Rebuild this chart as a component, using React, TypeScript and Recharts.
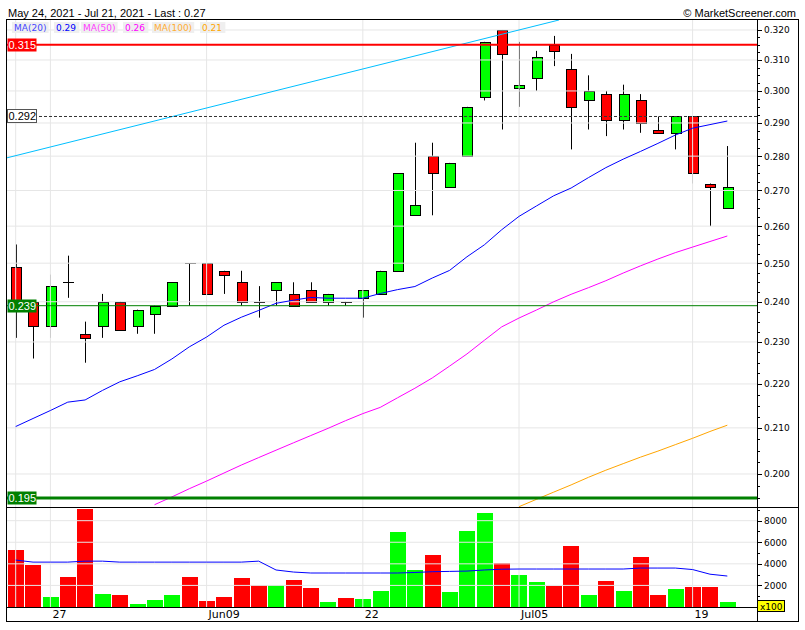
import React from 'react';
import { ComposedChart, Bar, Line, XAxis, YAxis, ReferenceLine } from 'recharts';

const dates = [
  '05-25', '05-26', '05-27', '05-28', '05-31', '06-01', '06-02', '06-03', '06-04', '06-07',
  '06-08', '06-09', '06-10', '06-11', '06-14', '06-15', '06-16', '06-17', '06-18', '06-21',
  '06-22', '06-23', '06-24', '06-25', '06-28', '06-29', '06-30', '07-01', '07-02', '07-05',
  '07-06', '07-07', '07-08', '07-09', '07-12', '07-13', '07-14', '07-15', '07-16', '07-19',
  '07-20', '07-21',
];

const open = [
  0.249, 0.240, 0.234, 0.245, 0.232, 0.234, 0.240, 0.234, 0.237, 0.239,
  0.250, 0.250, 0.248, 0.245, 0.240, 0.243, 0.242, 0.243, 0.240, 0.240,
  0.241, 0.242, 0.248, 0.263, 0.280, 0.271, 0.280, 0.298, 0.320, 0.301,
  0.304, 0.315, 0.307, 0.297, 0.299, 0.291, 0.297, 0.288, 0.287, 0.292,
  0.272, 0.265,
];
const high = [
  0.255, 0.240, 0.247, 0.252, 0.235, 0.242, 0.240, 0.238, 0.239, 0.245,
  0.250, 0.250, 0.248, 0.248, 0.244, 0.245, 0.245, 0.245, 0.242, 0.240,
  0.243, 0.248, 0.275, 0.284, 0.284, 0.278, 0.295, 0.316, 0.320, 0.316,
  0.313, 0.318, 0.312, 0.305, 0.300, 0.302, 0.299, 0.292, 0.292, 0.292,
  0.272, 0.283,
];
const low = [
  0.231, 0.226, 0.231, 0.241, 0.225, 0.231, 0.233, 0.232, 0.232, 0.239,
  0.239, 0.242, 0.242, 0.239, 0.236, 0.239, 0.239, 0.240, 0.239, 0.239,
  0.236, 0.242, 0.248, 0.263, 0.263, 0.271, 0.280, 0.297, 0.288, 0.295,
  0.300, 0.308, 0.282, 0.288, 0.286, 0.288, 0.287, 0.287, 0.282, 0.272,
  0.260, 0.265,
];
const close = [
  0.240, 0.234, 0.244, 0.245, 0.231, 0.240, 0.233, 0.238, 0.239, 0.245,
  0.250, 0.242, 0.247, 0.240, 0.240, 0.245, 0.239, 0.240, 0.242, 0.240,
  0.243, 0.248, 0.275, 0.266, 0.275, 0.278, 0.295, 0.316, 0.312, 0.302,
  0.311, 0.313, 0.295, 0.300, 0.291, 0.299, 0.290, 0.287, 0.292, 0.275,
  0.271, 0.271,
];

const ma20 = [
  0.2103, 0.2121, 0.2139, 0.2158, 0.2163, 0.2185, 0.2205, 0.2219, 0.2234, 0.2259,
  0.2288, 0.2312, 0.2341, 0.2361, 0.2378, 0.2396, 0.2404, 0.2411, 0.2409, 0.2409,
  0.2409, 0.2421, 0.2431, 0.2439, 0.2461, 0.2481, 0.2517, 0.2549, 0.2590, 0.2627,
  0.2656, 0.2685, 0.2707, 0.2737, 0.2766, 0.2791, 0.2814, 0.2838, 0.2863, 0.2884,
  0.2895, 0.2906,
];
const ma50 = [
  null, null, null, null, null, null, null, null, 0.1936, 0.1952,
  0.1969, 0.1985, 0.2002, 0.2019, 0.2035, 0.2051, 0.2067, 0.2083, 0.2099, 0.2116,
  0.2132, 0.2146, 0.2168, 0.2190, 0.2214, 0.2242, 0.2271, 0.2304, 0.2337, 0.2359,
  0.2379, 0.2400, 0.2419, 0.2436, 0.2454, 0.2474, 0.2493, 0.2511, 0.2528, 0.2543,
  0.2558, 0.2573,
];
const ma100 = [
  null, null, null, null, null, null, null, null, null, null,
  null, null, null, null, null, null, null, null, null, null,
  null, null, null, null, null, null, null, null, null, 0.1932,
  0.1947, 0.1962, 0.1977, 0.1993, 0.2008, 0.2022, 0.2036, 0.2049, 0.2063, 0.2077,
  0.2092, 0.2106,
];

// volume, in hundreds of shares
const volume = [
  5300, 3900, 960, 2800, 9100, 1240, 1140, 310, 680, 1140,
  2800, 590, 960, 2710, 2070, 2070, 2530, 1790, 500, 870,
  780, 1510, 6960, 3450, 4840, 1420, 7050, 8710, 4100, 2990,
  2340, 1980, 5670, 1140, 2440, 1510, 4650, 1140, 1700, 1880,
  1880, 500,
];
const volumeMA = [
  4350, 4160, 4160, 4160, 4250, 4250, 4160, 4160, 4160, 4160,
  4160, 4160, 4160, 4160, 4250, 3430, 3240, 3150, 3150, 3150,
  3150, 3150, 3150, 3200, 3270, 3300, 3330, 3430, 3500, 3520,
  3520, 3520, 3520, 3520, 3520, 3520, 3610, 3610, 3610, 3470,
  3040, 2870,
];

const priceTicks = [0.2, 0.21, 0.22, 0.23, 0.24, 0.25, 0.26, 0.27, 0.28, 0.29, 0.3, 0.31, 0.32];
const volumeTicks = [2000, 4000, 6000, 8000];
const volumeMinorTicks = [1000, 3000, 5000, 7000, 9000];
const dateTicks = ['05-27', '06-09', '06-22', '07-05', '07-19'];
const dateTickLabels = ['27', 'Jun09', '22', 'Jul05', '19'];
const gridDates = ['05-25', '05-27', '06-09', '06-22', '07-05', '07-19'];

const levelValues = [0.315, 0.292, 0.239, 0.195];
const trendline = [
  { t: -0.5, v: 0.2795 },
  { t: 31.3, v: 0.3234 },
];

const PRICE_DOMAIN = [0.19313, 0.3234];
const VOL_DOMAIN = [0, 9175];
const PAD = 21;

const rows = dates.map((d, i) => ({
  d,
  i,
  o: open[i],
  c: close[i],
  body: [Math.min(open[i], close[i]), Math.max(open[i], close[i])],
  wick: [low[i], high[i]],
  ma20: ma20[i],
  ma50: ma50[i],
  ma100: ma100[i],
  vol: volume[i],
  volMA: volumeMA[i],
}));

const minorPrice = priceTicks.flatMap((t) => [t - 0.0075, t - 0.005, t - 0.0025]);
const allPriceTicks = [...minorPrice, ...priceTicks].sort((a, b) => a - b);

const AXIS_FONT = 'DejaVu Sans, Verdana, sans-serif';
const ARIAL = 'Liberation Sans, Arial, sans-serif';

const PriceTick = (props: any) => {
  const { x, y, payload } = props;
  const major = priceTicks.includes(payload.value);
  const py = Math.round(y) + 0.5;
  return (
    <g>
      <line x1={x} x2={x + (major ? 5 : 3)} y1={py} y2={py} stroke="#000" />
      {major && (
        <text x={x + 7} y={y + 3.5} fontSize={9} fontFamily={AXIS_FONT} fill="#000">
          {payload.value.toFixed(3)}
        </text>
      )}
    </g>
  );
};

const VolTick = (props: any) => {
  const { x, y, payload } = props;
  const major = volumeTicks.includes(payload.value);
  const py = Math.round(y) + 0.5;
  return (
    <g>
      <line x1={x} x2={x + (major ? 5 : 3)} y1={py} y2={py} stroke="#000" />
      {major && (
        <text x={x + 7} y={y + 3.5} fontSize={9} fontFamily={AXIS_FONT} fill="#000">
          {payload.value}
        </text>
      )}
    </g>
  );
};

const DateTick = (props: any) => {
  const { x, y, payload } = props;
  const label = dateTickLabels[dateTicks.indexOf(payload.value)];
  return (
    <text x={x + 2} y={y + 11} fontSize={11} fontFamily={AXIS_FONT} fill="#000">
      {label}
    </text>
  );
};

const Wick = (props: any) => {
  const { x, y, width, height } = props;
  if (x == null || y == null) return null;
  const wx = Math.round(x + width / 2 - 5) + 5.5;
  return <line x1={wx} x2={wx} y1={y} y2={y + height} stroke="#000" strokeWidth={1} />;
};

const Body = (props: any) => {
  const { x, y, width, height, payload } = props;
  if (x == null || y == null) return null;
  const left = Math.round(x + width / 2 - 5);
  const top = Math.round(y);
  const bottom = Math.round(y + height);
  if (bottom - top < 1) {
    return <line x1={left} x2={left + 11} y1={top + 0.5} y2={top + 0.5} stroke="#000" />;
  }
  const fill = payload.c > payload.o ? '#00ff00' : '#ff0000';
  return <rect x={left + 0.5} y={top + 0.5} width={10} height={bottom - top} fill={fill} stroke="#000" />;
};

const VolBar = (props: any) => {
  const { x, y, width, height, payload } = props;
  if (x == null || y == null) return null;
  const left = Math.round(x);
  const top = Math.round(y);
  const fill = payload.c > payload.o ? '#00ff00' : '#ff0000';
  return <rect x={left} y={top} width={Math.round(width)} height={Math.round(y + height) - top} fill={fill} />;
};

const levelStyles = [
  { bg: '#ff0000', fg: '#ffffff', border: 'none', line: '#ff0000', width: 2, dash: undefined },
  { bg: '#ffffff', fg: '#000000', border: '#555555', line: '#333333', width: 1, dash: '3 2' },
  { bg: '#008000', fg: '#ffffff', border: 'none', line: '#008000', width: 1, dash: undefined },
  { bg: '#008000', fg: '#ffffff', border: 'none', line: '#008000', width: 3, dash: undefined },
];

const levelTag = (value: number, k: number) => (props: any) => {
  const s = levelStyles[k];
  const y = Math.round(props.viewBox.y);
  return (
    <g>
      <rect x={7.5} y={y - 6.5} width={29} height={13} fill={s.bg} stroke={s.border} />
      <text x={8.5} y={y + 4} fontSize={11} fontFamily={ARIAL} fill={s.fg}>
        {value.toFixed(3)}
      </text>
    </g>
  );
};

const legendItems = [
  { text: 'MA(20)', x: 14, color: '#4646ff' },
  { text: ma20[ma20.length - 1].toFixed(2), x: 56, color: '#0000ff' },
  { text: 'MA(50)', x: 83, color: '#ff40ff' },
  { text: (ma50[ma50.length - 1] as number).toFixed(2), x: 125, color: '#ff00ff' },
  { text: 'MA(100)', x: 154, color: '#ffad33' },
  { text: (ma100[ma100.length - 1] as number).toFixed(2), x: 202, color: '#ffa500' },
];

export default function App() {
  return (
    <div style={{ position: 'absolute', left: 0, top: 0, width: 805, height: 630, background: '#fff' }}>
      <div style={{ position: 'absolute', left: 0, top: 0 }}>
        <ComposedChart width={805} height={508} data={rows} margin={{ top: 20, right: 6, bottom: 1, left: 7 }}>
          <XAxis dataKey="d" hide padding={{ left: 0, right: PAD }} />
          <XAxis xAxisId="wick" dataKey="d" hide padding={{ left: 0, right: PAD }} />
          <XAxis xAxisId="num" dataKey="i" type="number" domain={[-0.5, 41.5]} allowDataOverflow hide padding={{ left: 0, right: PAD }} />
          <YAxis
            orientation="right"
            scale="log"
            domain={PRICE_DOMAIN}
            allowDataOverflow
            ticks={allPriceTicks}
            interval={0}
            tick={PriceTick}
            tickLine={false}
            tickSize={0}
            tickMargin={0}
            axisLine={false}
            width={42}
          />
          {priceTicks.map((t) => (
            <ReferenceLine key={'h' + t} y={t} stroke="#e6e6e6" />
          ))}
          {gridDates.map((d) => (
            <ReferenceLine key={'v' + d} x={d} stroke="#e6e6e6" />
          ))}
          <Bar xAxisId="wick" dataKey="wick" barSize={1} shape={Wick} isAnimationActive={false} />
          <Bar dataKey="body" barSize={10} shape={Body} isAnimationActive={false} />
          <ReferenceLine
            xAxisId="num"
            segment={[
              { x: trendline[0].t, y: trendline[0].v },
              { x: trendline[1].t, y: trendline[1].v },
            ]}
            stroke="#00bfff"
            ifOverflow="visible"
          />
          <Line dataKey="ma100" stroke="#ffa500" strokeWidth={1} dot={false} activeDot={false} isAnimationActive={false} />
          <Line dataKey="ma50" stroke="#ff00ff" strokeWidth={1} dot={false} activeDot={false} isAnimationActive={false} />
          <Line dataKey="ma20" stroke="#0000ff" strokeWidth={1} dot={false} activeDot={false} isAnimationActive={false} />
          {levelValues.map((v, k) => (
            <ReferenceLine
              key={'l' + v}
              y={v}
              stroke={levelStyles[k].line}
              strokeWidth={levelStyles[k].width}
              strokeDasharray={levelStyles[k].dash}
              label={levelTag(v, k)}
            />
          ))}
        </ComposedChart>
      </div>
      <div style={{ position: 'absolute', left: 0, top: 500 }}>
        <ComposedChart width={805} height={130} data={rows} margin={{ top: 8, right: 6, bottom: 8, left: 7 }}>
          <XAxis
            dataKey="d"
            ticks={dateTicks}
            interval={0}
            tick={DateTick}
            tickLine={false}
            tickSize={0}
            tickMargin={0}
            axisLine={false}
            height={15}
            padding={{ left: 0, right: PAD }}
          />
          <YAxis
            orientation="right"
            domain={VOL_DOMAIN}
            allowDataOverflow
            ticks={[...volumeMinorTicks, ...volumeTicks].sort((a, b) => a - b)}
            interval={0}
            tick={VolTick}
            tickLine={false}
            tickSize={0}
            tickMargin={0}
            axisLine={false}
            width={42}
          />
          {volumeTicks.map((t) => (
            <ReferenceLine key={'vh' + t} y={t} stroke="#e6e6e6" />
          ))}
          {gridDates.map((d) => (
            <ReferenceLine key={'vv' + d} x={d} stroke="#e6e6e6" />
          ))}
          <Bar dataKey="vol" barSize={16} shape={VolBar} isAnimationActive={false} />
          <Line dataKey="volMA" stroke="#0000ff" strokeWidth={1} dot={false} activeDot={false} isAnimationActive={false} />
        </ComposedChart>
      </div>
      <svg width={805} height={630} style={{ position: 'absolute', left: 0, top: 0, pointerEvents: 'none' }}>
        <text x={8} y={17} fontSize={11} fontFamily={ARIAL} fill="#000">
          May 24, 2021 - Jul 21, 2021 - Last : 0.27
        </text>
        <text x={796} y={17} fontSize={11} fontFamily={ARIAL} fill="#000" textAnchor="end">
          © MarketScreener.com
        </text>
        {legendItems.map((it) => (
          <g key={it.text + it.x}>
            <rect
              x={it.x - 2}
              y={22}
              width={it.text.length * 5.6 + 3}
              height={11}
              fill="#efefef"
            />
            <text x={it.x} y={31} fontSize={9} fontFamily={AXIS_FONT} fill={it.color}>
              {it.text}
            </text>
          </g>
        ))}
        <rect x={6.5} y={19.5} width={792} height={602} fill="none" stroke="#000" />
        <line x1={6.5} x2={798.5} y1={507.5} y2={507.5} stroke="#000" />
        <line x1={757.5} x2={757.5} y1={19.5} y2={621.5} stroke="#000" />
        <line x1={6.5} x2={757.5} y1={607.5} y2={607.5} stroke="#000" />
        <rect x={757.5} y={600.5} width={27} height={11} fill="#ffff00" stroke="#000" />
        <text x={760} y={609.5} fontSize={9} fontFamily={AXIS_FONT} fill="#000">
          x100
        </text>
      </svg>
    </div>
  );
}
